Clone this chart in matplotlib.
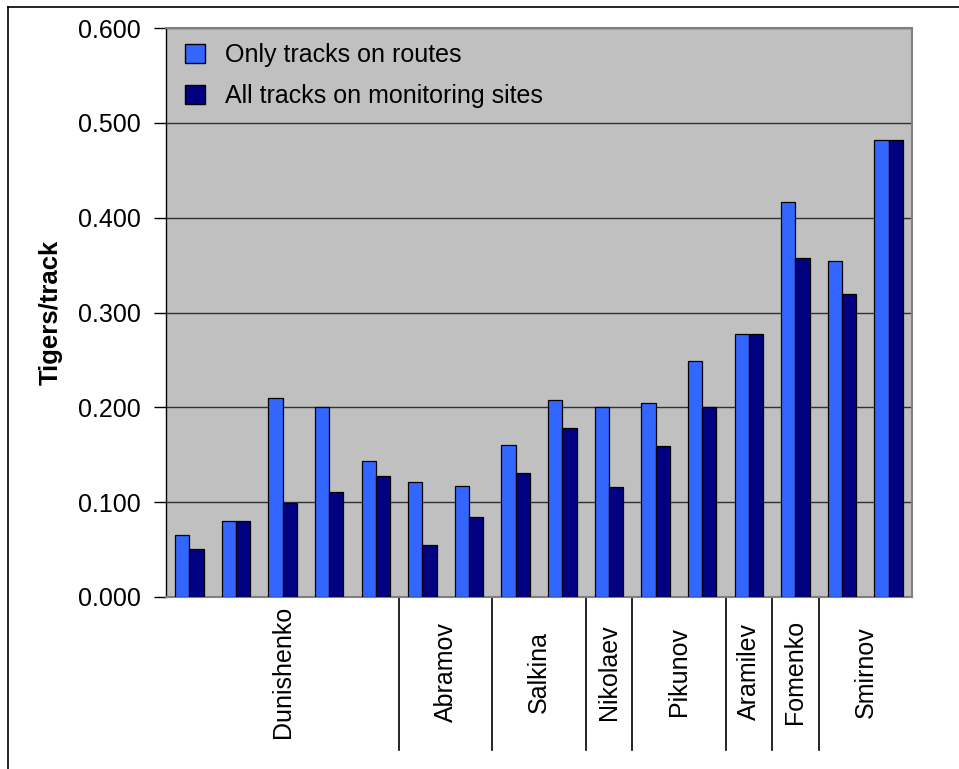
import matplotlib
matplotlib.use("Agg")
import matplotlib.pyplot as plt
import numpy as np
from matplotlib.patches import Patch
from matplotlib.lines import Line2D

plt.rcParams['font.family'] = ['Liberation Sans', 'DejaVu Sans']

# Tigers per track for each survey area, two counting methods
routes_only = [0.065, 0.080, 0.210, 0.200, 0.143, 0.121, 0.117, 0.160,
               0.208, 0.200, 0.205, 0.249, 0.277, 0.417, 0.354, 0.482]
all_tracks = [0.051, 0.080, 0.099, 0.111, 0.128, 0.055, 0.084, 0.131,
              0.178, 0.116, 0.159, 0.200, 0.277, 0.357, 0.320, 0.482]

# Observers and how many consecutive areas each one covered
observers = ["Dunishenko", "Abramov", "Salkina", "Nikolaev", "Pikunov",
             "Aramilev", "Fomenko", "Smirnov"]
observer_counts = [5, 2, 2, 1, 2, 1, 1, 2]

series_names = ["Only tracks on routes", "All tracks on monitoring sites"]
y_ticks = [0.0, 0.1, 0.2, 0.3, 0.4, 0.5, 0.6]

light = "#3366FF"
dark = "#000080"
FS = 18

W, H = 959, 769
fig = plt.figure(figsize=(W / 100, H / 100), dpi=100)

# outer frame (top and left edges visible)
fig.add_artist(Line2D([8 / W, 8 / W], [0, 1 - 7 / H], transform=fig.transFigure,
                      color="black", lw=1.2))
fig.add_artist(Line2D([8 / W, 1], [1 - 7 / H, 1 - 7 / H], transform=fig.transFigure,
                      color="black", lw=1.2))

left, right, top, bottom = 166, 912, 28, 597
ax = fig.add_axes([left / W, 1 - bottom / H, (right - left) / W, (bottom - top) / H])
ax.set_facecolor("#C0C0C0")

n = len(routes_only)
x = np.arange(n)
bw = 0.306
ax.bar(x - bw / 2, routes_only, width=bw, color=light, edgecolor="black",
       linewidth=0.9, zorder=3)
ax.bar(x + bw / 2, all_tracks, width=bw, color=dark, edgecolor="black",
       linewidth=0.9, zorder=3)

ax.set_xlim(-0.5, n - 0.5)
ax.set_ylim(0, 0.6)
ax.set_yticks(y_ticks)
ax.set_yticklabels([f"{v:.3f}" for v in y_ticks], fontsize=FS)
ax.tick_params(axis="y", direction="out", length=9, width=1, pad=9, color="black")
ax.set_xticks([])
ax.yaxis.grid(True, color="#303030", linewidth=1, zorder=1)

for side in ["top", "right", "bottom"]:
    ax.spines[side].set_color("#808080")
    ax.spines[side].set_linewidth(1.5)
ax.spines["left"].set_color("black")
ax.spines["left"].set_linewidth(1)

ax.set_ylabel("Tigers/track", fontsize=FS + 0.5, fontweight="bold")
ax.yaxis.set_label_coords((63 - left) / (right - left), 0.5)

# grouped category labels with separators
trans = ax.get_xaxis_transform()
sep_len_px = 153
sep_bottom = -sep_len_px / (bottom - top)
start = 0
for i, (name, cnt) in enumerate(zip(observers, observer_counts)):
    end = start + cnt
    center = (start + end - 1) / 2
    ax.text(center, -(672 - bottom) / (bottom - top), name, rotation=90,
            ha="center", va="center", fontsize=FS, transform=trans,
            clip_on=False)
    if i > 0:
        ax.add_line(Line2D([start - 0.5, start - 0.5], [0, sep_bottom],
                           transform=trans, color="black", lw=1.2,
                           clip_on=False))
    start = end

handles = [Patch(facecolor=light, edgecolor="black", linewidth=1),
           Patch(facecolor=dark, edgecolor="black", linewidth=1)]
leg = ax.legend(handles, series_names, loc="upper left", frameon=False,
                fontsize=FS, handlelength=0.8, handleheight=0.8,
                handletextpad=0.8, labelspacing=0.68,
                bbox_to_anchor=(-0.005, 1.013))

fig.savefig("out.png", dpi=100)
